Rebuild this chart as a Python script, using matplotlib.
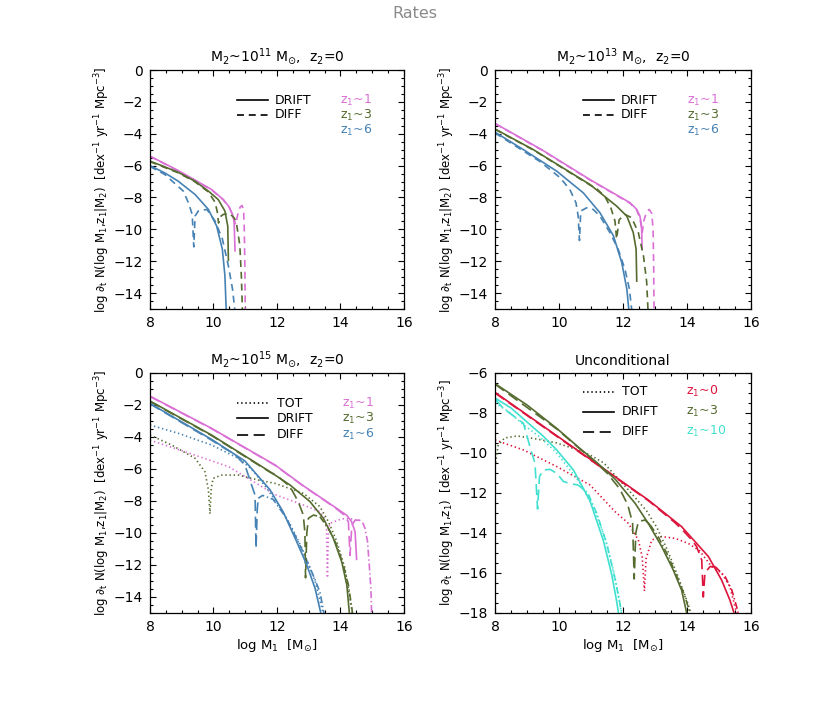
import matplotlib
matplotlib.use("Agg")
import matplotlib.pyplot as plt
from matplotlib.ticker import MultipleLocator

plt.rcParams["lines.scale_dashes"] = False
plt.rcParams["font.family"] = ["DejaVu Sans"]
plt.rcParams["mathtext.default"] = "regular"

# colours per z1
MAGENTA = "#DA70D6"
OLIVE = "#556B2F"
STEEL = "#4682B4"
CRIMSON = "#DC143C"
TURQ = "#40E0D0"

# ---------------- M2 ~ 1e11 (top left) ----------------
tl_drift_1 = [(8.0, -5.4), (8.89, -6.31), (9.94, -7.5), (10.31, -8.13), (10.49, -8.58),
              (10.6, -9.06), (10.65, -9.5), (10.68, -11.4)]
tl_diff_1 = [(8.0, -5.42), (8.89, -6.33), (9.94, -7.52), (10.31, -8.15), (10.49, -8.6),
             (10.6, -9.1), (10.7, -9.7), (10.76, -9.1), (10.84, -8.6), (10.9, -8.5),
             (10.95, -8.8), (10.97, -10.0), (10.99, -12.5), (11.0, -15.0)]
tl_drift_3 = [(8.0, -5.72), (8.37, -6.0), (8.89, -6.42), (9.42, -6.98), (9.84, -7.6),
              (10.15, -8.13), (10.36, -8.85), (10.45, -9.8), (10.47, -12.0)]
tl_diff_3 = [(8.0, -5.75), (8.89, -6.45), (9.42, -7.02), (9.84, -7.65), (10.05, -8.3),
             (10.12, -8.9), (10.16, -9.6), (10.22, -9.2), (10.31, -9.06), (10.52, -9.02),
             (10.66, -9.3), (10.73, -9.7), (10.83, -11.0), (10.88, -13.0), (10.91, -15.0)]
tl_drift_6 = [(8.0, -6.0), (8.47, -6.46), (8.89, -6.98), (9.42, -7.81), (9.84, -8.75),
              (10.1, -9.79), (10.28, -11.25), (10.36, -12.9), (10.4, -15.0)]
tl_diff_6 = [(8.0, -6.05), (8.47, -6.56), (9.05, -7.6), (9.21, -8.33), (9.33, -9.06),
             (9.38, -11.1), (9.42, -9.17), (9.52, -8.85), (9.79, -8.75), (10.05, -9.48),
             (10.28, -10.6), (10.47, -12.3), (10.6, -13.75), (10.67, -15.0)]

# ---------------- M2 ~ 1e13 (top right) ----------------
tr_drift_1 = [(8.0, -3.35), (9.46, -5.0), (10.97, -6.88), (12.22, -8.33), (12.43, -8.75),
              (12.53, -9.17), (12.58, -9.8), (12.6, -11.3)]
tr_diff_1 = [(8.0, -3.37), (9.46, -5.02), (10.97, -6.9), (12.22, -8.36), (12.43, -8.8),
             (12.53, -9.3), (12.6, -10.2), (12.66, -9.4), (12.74, -8.9), (12.82, -8.75),
             (12.9, -9.0), (12.94, -10.0), (12.96, -12.5), (12.97, -15.0)]
tr_drift_3 = [(8.0, -3.7), (9.2, -5.0), (10.97, -7.19), (11.8, -8.54), (12.12, -9.17),
              (12.32, -10.2), (12.41, -11.25), (12.43, -13.3)]
tr_diff_3 = [(8.0, -3.72), (9.2, -5.02), (10.97, -7.22), (11.18, -7.45), (11.44, -7.95),
             (11.62, -8.65), (11.75, -9.48), (11.8, -10.6), (11.88, -9.4), (12.06, -9.06),
             (12.27, -9.27), (12.48, -10.2), (12.64, -11.67), (12.74, -13.3), (12.78, -15.0)]
tr_drift_6 = [(8.0, -3.9), (8.89, -5.0), (9.93, -6.35), (10.76, -7.71), (11.28, -8.96),
              (11.7, -10.4), (11.96, -12.08), (12.12, -13.75), (12.18, -15.0)]
tr_diff_6 = [(8.0, -3.95), (8.9, -5.1), (9.41, -5.75), (10.03, -6.75), (10.34, -7.5),
             (10.53, -8.33), (10.6, -9.17), (10.64, -10.7), (10.68, -8.85), (10.86, -8.65),
             (11.07, -8.75), (11.28, -9.17), (11.59, -10.2), (11.85, -11.25), (12.06, -12.5),
             (12.2, -13.75), (12.27, -15.0)]

# ---------------- M2 ~ 1e15 (bottom left) ----------------
bl_drift_1 = [(8.0, -1.45), (9.94, -3.46), (11.94, -5.75), (12.83, -7.05), (13.5, -7.95),
              (13.88, -8.46), (14.2, -8.9), (14.35, -9.29), (14.46, -9.92), (14.51, -11.7)]
bl_diff_1 = [(8.0, -1.47), (9.94, -3.48), (11.94, -5.77), (12.83, -7.07), (13.5, -7.97),
             (13.88, -8.5), (14.1, -8.85), (14.25, -9.3), (14.3, -11.4), (14.36, -9.5),
             (14.46, -9.2), (14.6, -9.2), (14.7, -9.35)]
bl_neg_1 = [(14.7, -9.35), (14.77, -9.7), (14.85, -10.5), (14.9, -11.8), (14.96, -13.5),
            (14.98, -15.0)]
bl_tot_1 = [(8.0, -4.2), (9.1, -4.92), (10.47, -5.85), (11.94, -7.6), (12.83, -8.25),
            (13.35, -8.67), (13.5, -9.1), (13.56, -9.8), (13.59, -12.8), (13.62, -9.9),
            (13.67, -9.4), (13.88, -9.23), (14.04, -9.12), (14.3, -9.1), (14.5, -9.2)]
bl_drift_3 = [(8.0, -1.75), (9.94, -3.88), (11.78, -6.17), (12.41, -7.0), (13.04, -8.04),
              (13.46, -9.08), (13.77, -10.3), (14.04, -11.8), (14.2, -13.25), (14.28, -15.0)]
bl_diff_3 = [(8.0, -1.78), (9.94, -3.91), (11.78, -6.2), (11.99, -6.4), (12.41, -7.1),
             (12.67, -8.04), (12.83, -8.88), (12.88, -10.0), (12.9, -12.8), (12.94, -10.0),
             (12.99, -9.08), (13.15, -8.88), (13.35, -8.98)]
bl_neg_3 = [(13.35, -8.98), (13.62, -9.71), (13.88, -10.75), (14.09, -12.0), (14.25, -13.25),
            (14.38, -15.0)]
bl_tot_3 = [(8.0, -3.88), (8.68, -4.5), (9.42, -5.33), (9.73, -6.17), (9.84, -7.3),
            (9.89, -8.8), (9.93, -7.2), (9.99, -6.58), (10.26, -6.38), (10.78, -6.38),
            (11.41, -6.69), (11.94, -6.9), (12.83, -7.52), (13.35, -8.35), (13.62, -9.29),
            (13.88, -10.5), (14.14, -12.2), (14.35, -14.7), (14.37, -15.0)]
bl_drift_6 = [(8.0, -1.9), (9.94, -4.15), (10.99, -5.5), (11.78, -7.3), (12.2, -8.7),
              (12.62, -10.54), (12.94, -12.0), (13.2, -13.46), (13.38, -15.0)]
bl_diff_6 = [(8.0, -1.93), (9.94, -4.2), (10.26, -4.6), (10.68, -5.1), (10.99, -5.75),
             (11.2, -7.0), (11.31, -7.63), (11.34, -10.96), (11.38, -8.5), (11.41, -7.83)]
bl_neg_6 = [(11.41, -7.83), (11.55, -7.65), (11.88, -7.9), (12.3, -9.08), (12.72, -10.75),
            (13.09, -12.4), (13.35, -13.67), (13.48, -15.0)]
bl_tot_6 = [(8.0, -3.25), (8.89, -3.77), (9.94, -4.5), (10.78, -5.33), (11.2, -6.0),
            (11.6, -7.0), (12.0, -8.1), (12.4, -9.4), (12.8, -11.0), (13.2, -13.0),
            (13.45, -15.0)]

# ---------------- unconditional (bottom right) ----------------
br_drift_0 = [(8.0, -6.97), (11.5, -10.9), (12.79, -12.35), (13.83, -13.68), (14.67, -15.18),
              (15.08, -16.35), (15.34, -17.35), (15.47, -18.0)]
br_diff_0 = [(8.0, -7.0), (11.5, -10.93), (12.79, -12.38), (13.6, -13.45), (13.83, -13.8),
             (14.15, -14.35), (14.3, -14.68), (14.46, -15.35), (14.51, -17.2), (14.56, -16.0),
             (14.72, -15.68), (14.88, -15.68)]
br_neg_0 = [(14.88, -15.68), (15.19, -16.18), (15.4, -16.85), (15.55, -17.68), (15.6, -18.0)]
br_tot_0 = [(8.0, -9.35), (8.89, -9.85), (9.93, -10.68), (10.97, -11.6), (11.75, -12.93),
            (12.17, -13.52), (12.48, -14.35), (12.6, -15.2), (12.67, -16.9), (12.72, -15.3),
            (12.9, -14.35), (13.21, -14.18), (13.63, -14.27), (14.04, -14.52), (14.4, -14.9),
            (14.77, -15.68), (15.08, -16.0), (15.34, -16.68), (15.55, -18.0)]
br_drift_3 = [(8.0, -6.53), (9.0, -7.6), (9.93, -8.77), (10.6, -9.7), (11.2, -10.5),
              (11.75, -11.3), (12.38, -12.52), (12.79, -13.52), (13.21, -14.68),
              (13.57, -15.85), (13.83, -16.85), (13.99, -18.0)]
br_diff_3 = [(8.0, -6.56), (9.93, -8.8), (11.2, -10.55), (11.5, -11.0), (11.9, -11.8),
             (12.15, -12.6), (12.3, -13.5), (12.35, -16.3), (12.4, -14.0), (12.48, -13.43),
             (12.69, -13.35), (12.85, -13.6)]
br_neg_3 = [(12.85, -13.6), (13.1, -14.18), (13.42, -15.18), (13.73, -16.35), (13.94, -17.18),
            (14.09, -18.0)]
br_tot_3 = [(8.0, -10.7), (8.1, -9.6), (8.3, -9.25), (8.7, -9.15), (9.3, -9.3), (9.93, -9.5),
            (10.5, -9.8), (10.97, -10.1), (11.4, -10.5), (11.8, -11.2), (12.2, -11.9),
            (12.74, -12.9), (13.05, -13.7), (13.4, -14.9), (13.7, -16.1), (14.0, -17.4),
            (14.12, -18.0)]
br_drift_10 = [(8.0, -7.25), (8.5, -7.75), (8.89, -8.3), (9.5, -9.15), (9.93, -9.85),
               (10.45, -10.85), (10.97, -12.4), (11.39, -14.4), (11.65, -16.1), (11.8, -17.4),
               (11.86, -18.0)]
br_diff_10 = [(8.0, -7.3), (8.26, -7.77), (8.89, -8.52), (9.09, -9.68), (9.25, -10.52),
              (9.33, -12.8), (9.39, -11.18), (9.51, -10.85), (9.72, -10.82), (9.93, -11.02),
              (10.14, -11.43), (10.4, -11.55), (10.6, -11.6)]
br_neg_10 = [(10.6, -11.6), (10.9, -12.0), (11.2, -13.1), (11.5, -14.6), (11.75, -16.3),
             (11.9, -17.5), (11.96, -18.0)]
br_tot_10 = [(8.0, -7.5), (8.4, -7.9), (8.9, -8.6), (9.4, -9.2), (9.9, -9.95), (10.3, -10.75),
             (10.7, -11.6), (11.1, -12.8), (11.45, -14.3), (11.72, -16.0), (11.9, -17.5),
             (11.95, -18.0)]

SHORT_DASH = (0, (5, 3.5))
LONG_DASH = (0, (8, 4))
DOTTED = (0, (1, 2))
DASH_DOT = (0, (5, 2, 1, 2))
LW = 1.2


def curve(ax, pts, color, ls):
    xs = [p[0] for p in pts]
    ys = [p[1] for p in pts]
    ax.plot(xs, ys, color=color, linestyle=ls, lw=LW, solid_capstyle="butt",
            dash_capstyle="butt")


def style_axes(ax, ymin, ymax):
    ax.set_xlim(8, 16)
    ax.set_ylim(ymin, ymax)
    ax.xaxis.set_major_locator(MultipleLocator(2))
    ax.xaxis.set_minor_locator(MultipleLocator(0.5))
    ax.yaxis.set_major_locator(MultipleLocator(2))
    ax.yaxis.set_minor_locator(MultipleLocator(0.5))
    ax.tick_params(which="both", direction="in", top=True, right=True, width=0.8,
                   labelsize=10)
    ax.tick_params(which="major", length=4.5, pad=5)
    ax.tick_params(which="minor", length=2.2)
    for s in ax.spines.values():
        s.set_linewidth(0.9)


def legend_block(ax, rows, zrows, x0=0.342, x1=0.466, xt=0.492, xz=0.75):
    for (label, ls, yy) in rows:
        ax.plot([x0, x1], [yy, yy], color="black", linestyle=ls, lw=LW,
                transform=ax.transAxes)
        ax.text(xt, yy, label, transform=ax.transAxes, fontsize=9, va="center",
                ha="left")
    for (label, col, yy) in zrows:
        ax.text(xz, yy, label, transform=ax.transAxes, fontsize=9, va="center",
                ha="left", color=col)


YLAB_C = r"log $\partial_t$ N(log M$_1$,z$_1$|M$_2$)  [dex$^{-1}$ yr$^{-1}$ Mpc$^{-3}$]"
YLAB_U = r"log $\partial_t$ N(log M$_1$,z$_1$)  [dex$^{-1}$ yr$^{-1}$ Mpc$^{-3}$]"
XLAB = r"log M$_1$  [M$_{\odot}$]"

fig = plt.figure(figsize=(8.3, 7.22), dpi=100)
fig.text(0.5, 0.981, "Rates", ha="center", va="center", fontsize=11.5, color="#8a8a8a")

ax_tl = fig.add_axes([0.1807, 0.5720, 0.3060, 0.3310])
ax_tr = fig.add_axes([0.5964, 0.5720, 0.3084, 0.3310])
ax_bl = fig.add_axes([0.1807, 0.1510, 0.3060, 0.3324])
ax_br = fig.add_axes([0.5964, 0.1510, 0.3084, 0.3324])

# top left
curve(ax_tl, tl_drift_1, MAGENTA, "-")
curve(ax_tl, tl_diff_1, MAGENTA, SHORT_DASH)
curve(ax_tl, tl_drift_3, OLIVE, "-")
curve(ax_tl, tl_diff_3, OLIVE, SHORT_DASH)
curve(ax_tl, tl_drift_6, STEEL, "-")
curve(ax_tl, tl_diff_6, STEEL, SHORT_DASH)
ax_tl.set_title(r"M$_2$~10$^{11}$ M$_{\odot}$,  z$_2$=0", fontsize=10, pad=6)

# top right
curve(ax_tr, tr_drift_1, MAGENTA, "-")
curve(ax_tr, tr_diff_1, MAGENTA, SHORT_DASH)
curve(ax_tr, tr_drift_3, OLIVE, "-")
curve(ax_tr, tr_diff_3, OLIVE, SHORT_DASH)
curve(ax_tr, tr_drift_6, STEEL, "-")
curve(ax_tr, tr_diff_6, STEEL, SHORT_DASH)
ax_tr.set_title(r"M$_2$~10$^{13}$ M$_{\odot}$,  z$_2$=0", fontsize=10, pad=6)

for ax in (ax_tl, ax_tr):
    style_axes(ax, -15, 0)
    legend_block(ax, [("DRIFT", "-", 0.874), ("DIFF", SHORT_DASH, 0.812)],
                 [(r"z$_1$~1", MAGENTA, 0.874), (r"z$_1$~3", OLIVE, 0.812),
                  (r"z$_1$~6", STEEL, 0.749)])

# bottom left
for pts, col in ((bl_tot_1, MAGENTA), (bl_tot_3, OLIVE), (bl_tot_6, STEEL)):
    curve(ax_bl, pts, col, DOTTED)
for pts, col in ((bl_neg_1, MAGENTA), (bl_neg_3, OLIVE), (bl_neg_6, STEEL)):
    curve(ax_bl, pts, col, DASH_DOT)
for pts, col in ((bl_diff_1, MAGENTA), (bl_diff_3, OLIVE), (bl_diff_6, STEEL)):
    curve(ax_bl, pts, col, LONG_DASH)
for pts, col in ((bl_drift_1, MAGENTA), (bl_drift_3, OLIVE), (bl_drift_6, STEEL)):
    curve(ax_bl, pts, col, "-")
style_axes(ax_bl, -15, 0)
ax_bl.set_title(r"M$_2$~10$^{15}$ M$_{\odot}$,  z$_2$=0", fontsize=10, pad=6)
legend_block(ax_bl, [("TOT", DOTTED, 0.874), ("DRIFT", "-", 0.811), ("DIFF", LONG_DASH, 0.742)],
             [(r"z$_1$~1", MAGENTA, 0.874), (r"z$_1$~3", OLIVE, 0.811),
              (r"z$_1$~6", STEEL, 0.742)], xt=0.499, xz=0.755)

# bottom right
for pts, col in ((br_tot_0, CRIMSON), (br_tot_3, OLIVE), (br_tot_10, TURQ)):
    curve(ax_br, pts, col, DOTTED)
for pts, col in ((br_neg_0, CRIMSON), (br_neg_3, OLIVE), (br_neg_10, TURQ)):
    curve(ax_br, pts, col, DASH_DOT)
for pts, col in ((br_diff_0, CRIMSON), (br_diff_3, OLIVE), (br_diff_10, TURQ)):
    curve(ax_br, pts, col, LONG_DASH)
for pts, col in ((br_drift_0, CRIMSON), (br_drift_3, OLIVE), (br_drift_10, TURQ)):
    curve(ax_br, pts, col, "-")
style_axes(ax_br, -18, -6)
ax_br.set_title("Unconditional", fontsize=10, pad=6)
legend_block(ax_br, [("TOT", DOTTED, 0.922), ("DRIFT", "-", 0.839), ("DIFF", LONG_DASH, 0.755)],
             [(r"z$_1$~0", CRIMSON, 0.922), (r"z$_1$~3", OLIVE, 0.839),
              (r"z$_1$~10", TURQ, 0.755)], xt=0.497, xz=0.745)

for ax in (ax_tl, ax_tr, ax_bl):
    ax.set_ylabel(YLAB_C, fontsize=8.5)
ax_br.set_ylabel(YLAB_U, fontsize=8.5)
for ax in (ax_tl, ax_tr, ax_bl, ax_br):
    ax.yaxis.set_label_coords(-0.15, 0.5)
for ax in (ax_bl, ax_br):
    ax.set_xlabel(XLAB, fontsize=9.5)
    ax.xaxis.set_label_coords(0.5, -0.1)

fig.savefig("out.png", dpi=100)
plt.close(fig)
